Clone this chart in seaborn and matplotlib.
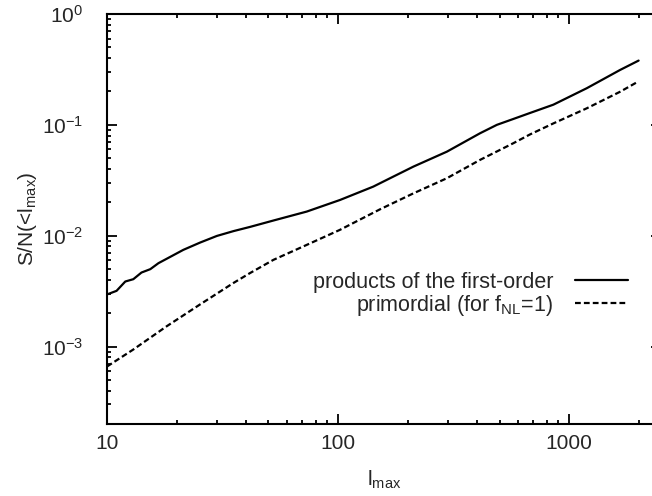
import numpy as np
import pandas as pd
import matplotlib
matplotlib.use("Agg")
import matplotlib.pyplot as plt
import matplotlib.ticker as mticker
import seaborn as sns

# values (l_max, S/N)
first_order_l = [10, 11, 12, 13, 14.1, 15.4, 16.7, 18.1, 21.4, 25.3, 29.9, 35.3, 41.6,
                 52.5, 73.2, 102, 142, 168, 212, 296, 412, 487, 574, 678, 855, 1193, 1664, 2000]
first_order_sn = [2.95e-3, 3.18e-3, 3.86e-3, 4.05e-3, 4.65e-3, 4.99e-3, 5.65e-3, 6.18e-3,
                  7.45e-3, 8.67e-3, 9.95e-3, 1.10e-2, 1.20e-2, 1.37e-2, 1.65e-2, 2.10e-2,
                  2.77e-2, 3.3e-2, 4.2e-2, 5.73e-2, 8.4e-2, 0.100, 0.113, 0.128, 0.152,
                  0.214, 0.313, 0.38]

primordial_l = [10, 13, 18.1, 25.3, 35.3, 41.6, 52.5, 73.2, 102, 152, 212, 296, 412,
                574, 678, 855, 1193, 1664, 2000]
primordial_sn = [6.6e-4, 9.4e-4, 1.52e-3, 2.40e-3, 3.75e-3, 4.6e-3, 6.05e-3, 8.26e-3,
                 1.13e-2, 1.73e-2, 2.41e-2, 3.30e-2, 4.83e-2, 6.83e-2, 8.2e-2, 0.103,
                 0.141, 0.199, 0.247]

labels = ["products of the first-order", "primordial (for f$_{NL}$=1)"]

sns.set_theme(style="ticks")
plt.rcParams["font.family"] = ["Liberation Sans", "DejaVu Sans"]
plt.rcParams["mathtext.default"] = "regular"
plt.rcParams["axes.unicode_minus"] = False
FS = 15

df1 = pd.DataFrame({"l": first_order_l, "sn": first_order_sn})
df2 = pd.DataFrame({"l": primordial_l, "sn": primordial_sn})

fig = plt.figure(figsize=(6.52, 4.96), dpi=100)
W, H = 652, 496
# right border sits just past the picture edge, as in the reference
ax = fig.add_axes([107 / W, (H - 424) / H, 554 / W, 410 / H])
ax.set_xscale("log")
ax.set_yscale("log")

sns.lineplot(data=df1, x="l", y="sn", ax=ax, color="black", lw=1.6,
             label=labels[0], sort=False)
sns.lineplot(data=df2, x="l", y="sn", ax=ax, color="black", lw=1.6,
             label=labels[1], sort=False)
ax.lines[1].set_dashes((2.6, 1.4))

ax.set_xlim(10, 2500)
ax.set_ylim(2e-4, 1)

ax.xaxis.set_major_locator(mticker.LogLocator(base=10, numticks=10))
ax.xaxis.set_major_formatter(mticker.FuncFormatter(lambda v, p: f"{v:g}"))
ax.xaxis.set_minor_locator(mticker.LogLocator(base=10, subs=np.arange(2, 10), numticks=20))
ax.xaxis.set_minor_formatter(mticker.NullFormatter())
ax.yaxis.set_major_locator(mticker.LogLocator(base=10, numticks=10))
ax.yaxis.set_minor_locator(mticker.LogLocator(base=10, subs=np.arange(2, 10), numticks=20))
ax.yaxis.set_minor_formatter(mticker.NullFormatter())

for side in ["left", "right", "top", "bottom"]:
    ax.spines[side].set_visible(True)
    ax.spines[side].set_linewidth(1.5)
    ax.spines[side].set_color("black")

ax.tick_params(which="both", direction="in", top=True, right=True, width=1.3, color="black")
ax.tick_params(which="major", length=7.2)
ax.tick_params(which="minor", length=3.2)
ax.tick_params(axis="y", which="major", pad=17, labelsize=FS)
ax.tick_params(axis="x", which="major", pad=7, labelsize=FS)

ax.set_xlabel("l$_{max}$", fontsize=FS)
ax.set_ylabel("S/N(<l$_{max}$)", fontsize=FS)
ax.xaxis.set_label_coords(0.5, -0.11)
ax.yaxis.set_label_coords(-0.123, 0.5)

ax.legend(loc="upper right", bbox_to_anchor=(628 / W, 1 - 272 / H),
          bbox_transform=fig.transFigure, frameon=False, markerfirst=False,
          fontsize=15.5, handlelength=2.46, handletextpad=1.02,
          labelspacing=0.0, borderpad=0, borderaxespad=0)

ax.grid(False)
fig.savefig("out.png", dpi=100)
